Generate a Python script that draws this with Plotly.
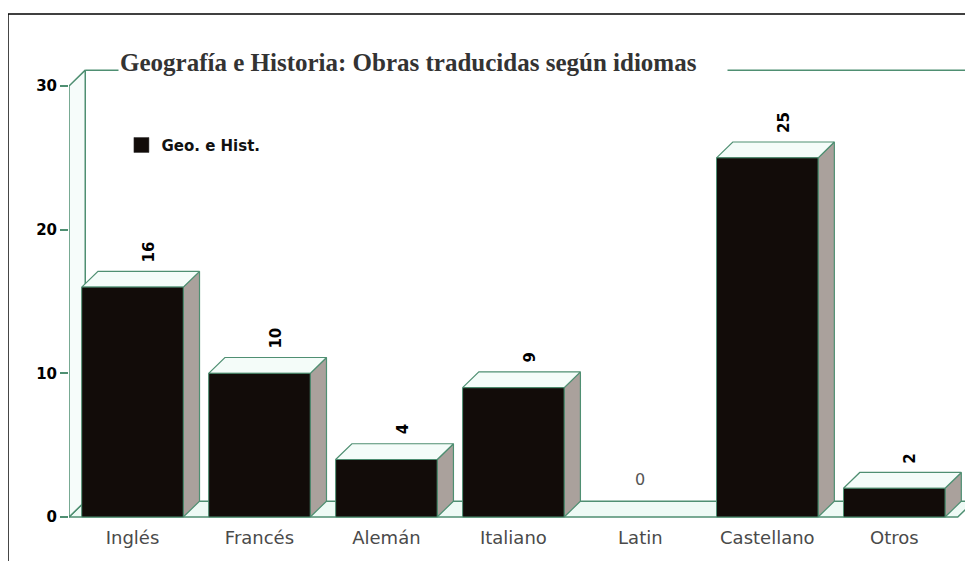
import plotly.graph_objects as go

categories = ["Inglés", "Francés", "Alemán", "Italiano", "Latin", "Castellano", "Otros"]
values = [16, 10, 4, 9, 0, 25, 2]
y_ticks = [0, 10, 20, 30]
series_name = "Geo. e Hist."
title_text = "Geografía e Historia: Obras traducidas según idiomas"

# 3D depth (in data units) and bar width
DX = 0.128
DY = 1.1
BW = 0.8
YMAX = 30
n = len(categories)
xs = list(range(n))

EDGE = "#4f8f72"
FRONT = "#120c09"
SIDE = "#aaa19c"
TOP = "#f4fcf9"
FLOOR = "#eefaf5"
WALL = "#f6fcfa"

fig = go.Figure()

# floor
fig.add_trace(go.Scatter(
    x=[-0.5, n - 0.5, n - 0.5 + DX, -0.5 + DX, -0.5],
    y=[0, 0, DY, DY, 0],
    fill="toself", fillcolor=FLOOR, mode="lines",
    line=dict(color=EDGE, width=1.5), hoverinfo="skip", showlegend=False))

# left wall
fig.add_trace(go.Scatter(
    x=[-0.5, -0.5, -0.5 + DX, -0.5 + DX, -0.5],
    y=[0, YMAX, YMAX + DY, DY, 0],
    fill="toself", fillcolor=WALL, mode="lines",
    line=dict(color=EDGE, width=1.5), hoverinfo="skip", showlegend=False))

# back wall top line
fig.add_trace(go.Scatter(
    x=[-0.5 + DX, n - 0.5 + DX + 0.2],
    y=[YMAX + DY, YMAX + DY],
    mode="lines", line=dict(color=EDGE, width=1.5),
    hoverinfo="skip", showlegend=False))

# faces of each bar
fx, fy, sx, sy, tx, ty = [], [], [], [], [], []
for i, v in zip(xs, values):
    if v <= 0:
        continue
    r = i + BW / 2
    l = i - BW / 2
    fx += [l, l, r, r, l, None]
    fy += [0, v, v, 0, 0, None]
    sx += [r, r, r + DX, r + DX, r, None]
    sy += [0, v, v + DY, DY, 0, None]
    tx += [l, l + DX, r + DX, r, l, None]
    ty += [v, v + DY, v + DY, v, v, None]

fig.add_trace(go.Scatter(x=sx, y=sy, fill="toself", fillcolor=SIDE, mode="lines",
                         line=dict(color=EDGE, width=1.2), hoverinfo="skip", showlegend=False))
fig.add_trace(go.Scatter(x=tx, y=ty, fill="toself", fillcolor=TOP, mode="lines",
                         line=dict(color=EDGE, width=1.2), hoverinfo="skip", showlegend=False))
fig.add_trace(go.Scatter(x=fx, y=fy, fill="toself", fillcolor=FRONT, mode="lines",
                         line=dict(color=EDGE, width=1), name=series_name,
                         hoverinfo="skip", showlegend=False))

# legend entry
fig.add_trace(go.Scatter(x=[None], y=[None], mode="markers", name=series_name,
                         marker=dict(symbol="square", size=15, color=FRONT,
                                     line=dict(color="#333333", width=0.5)),
                         showlegend=True))

# value labels
for i, v in zip(xs, values):
    if v == 0:
        fig.add_annotation(x=i, y=DY, text=str(v), showarrow=False,
                           yanchor="bottom", yshift=10,
                           font=dict(family="DejaVu Sans", size=16, color="#555555"))
    else:
        fig.add_annotation(x=i + DX / 2, y=v + DY, text=f"<b>{v}</b>", showarrow=False,
                           textangle=-90, yanchor="bottom", xshift=8, yshift=7,
                           font=dict(family="DejaVu Sans", size=15, color="#000000"))

# title
fig.add_annotation(xref="paper", yref="paper", x=0.054, y=1.009,
                   xanchor="left", yanchor="middle", align="left", width=606,
                   text=f"<b>{title_text}</b>", showarrow=False, bgcolor="white",
                   font=dict(family="Liberation Serif", size=25, color="#333333"))

# page frame
fig.add_shape(type="line", xref="paper", yref="paper", x0=-0.0675, x1=1.1, y0=1.1167, y1=1.1167,
              line=dict(color="black", width=1.5))
fig.add_shape(type="line", xref="paper", yref="paper", x0=-0.0675, x1=-0.0675, y0=-0.2, y1=1.1167,
              line=dict(color="black", width=1.5))

fig.update_layout(
    width=965, height=553,
    margin=dict(l=61, r=0, t=59, b=40),
    paper_bgcolor="white", plot_bgcolor="white",
    legend=dict(x=0.058, y=0.864, xanchor="left", yanchor="top",
                bgcolor="rgba(0,0,0,0)",
                font=dict(family="DejaVu Sans", size=15, color="#111111", weight="bold")),
    xaxis=dict(range=[-0.5, n - 0.5 + 0.12], tickvals=xs, ticktext=categories,
               showgrid=False, zeroline=False, showline=False,
               ticks="outside", ticklen=0, tickcolor="rgba(0,0,0,0)",
               tickfont=dict(family="DejaVu Sans", size=18, color="#4a4a4a")),
    yaxis=dict(range=[-0.278, 31.32], tickvals=y_ticks,
               showgrid=False, zeroline=False, showline=False,
               ticks="outside", ticklen=8, tickcolor=EDGE, tickwidth=1.5,
               tickfont=dict(family="DejaVu Sans", size=15, color="#000000", weight="bold")),
)

fig.write_html("out.html")
